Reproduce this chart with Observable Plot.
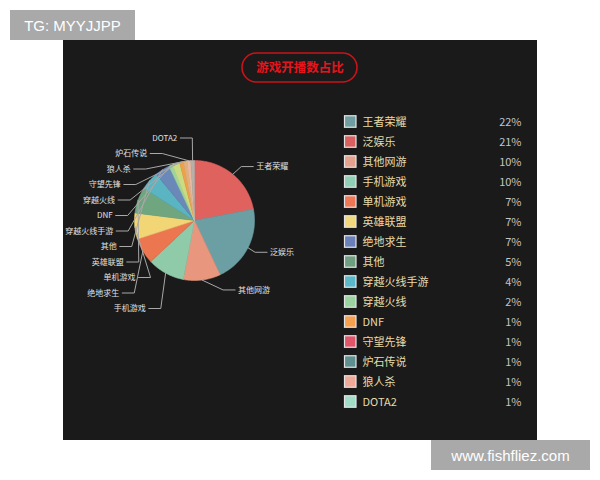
<!DOCTYPE html>
<html>
<head>
<meta charset="utf-8">
<script src="https://cdn.jsdelivr.net/npm/d3@7"></script>
<script src="https://cdn.jsdelivr.net/npm/@observablehq/plot@0.6"></script>
<style>
  html, body { margin: 0; padding: 0; background: #ffffff; }
  #page { position: relative; width: 600px; height: 480px; overflow: hidden; background: #fff; font-family: "Noto Sans CJK SC", "Noto Sans", sans-serif; }
  #panel { position: absolute; left: 63px; top: 40px; width: 474px; height: 400px; background: #1a1a1a; }
  .wm { position: absolute; background: #a9a9a9; color: #ffffff; font-family: "Liberation Sans", Arial, sans-serif; font-size: 15px; display: flex; align-items: center; justify-content: center; }
  #wm1 { left: 10px; top: 10px; width: 125px; height: 30px; }
  #wm2 { left: 431px; top: 440px; width: 159px; height: 30px; }
  svg { display: block; }
</style>
</head>
<body>
<div id="page">
  <div id="panel"></div>
  <div class="wm" id="wm1">TG: MYYJJPP</div>
  <div class="wm" id="wm2">www.fishfliez.com</div>
</div>
<script>
// ---- data ----
const titleText = "游戏开播数占比";
const categories = ["王者荣耀","泛娱乐","其他网游","手机游戏","单机游戏","英雄联盟","绝地求生","其他","穿越火线手游","穿越火线","DNF","守望先锋","炉石传说","狼人杀","DOTA2"];
const shares = [22,21,10,10,7,7,7,5,4,2,1,1,1,1,1];
const legendColors = ["#6f9ea2","#d9605f","#e5a08e","#8ecfb5","#ee7755","#f1d87a","#6a80b8","#6f9f80","#5bb8c8","#9ad2a0","#f5a050","#e0556a","#5f9090","#f0a898","#a0dcc8"];
const pieOrder = ["王者荣耀","泛娱乐","其他网游","手机游戏","绝地求生","单机游戏","英雄联盟","其他","穿越火线手游","DNF","穿越火线","守望先锋","狼人杀","炉石传说","DOTA2"];
const pieColors = ["#e0625e","#6c9fa4","#e8967e","#8fcaa9","#ec7650","#f2d676","#6fa57f","#5ab4c2","#6a88b8","#9dd59c","#c9dc84","#f0a048","#e0b07a","#e8b8a0","#b8b0a8"];

// ---- layout ----
const W = 474, H = 400;
const cx = 131, cy = 180, r = 60, len = 10, len2 = 12;
const total = d3.sum(shares);
const shareOf = new Map(categories.map((c, i) => [c, shares[i]]));
const pt = (a, rad) => ({x: cx + rad * Math.sin(a), y: cy - rad * Math.cos(a)});

let acc = 0;
const slices = pieOrder.map((name, i) => {
  const v = shareOf.get(name);
  const a0 = acc / total * 2 * Math.PI; acc += v;
  const a1 = acc / total * 2 * Math.PI;
  const pts = [{x: cx, y: cy}];
  const n = Math.max(2, Math.ceil((a1 - a0) / (Math.PI / 180)));
  for (let k = 0; k <= n; k++) pts.push(pt(a0 + (a1 - a0) * k / n, r));
  pts.push({x: cx, y: cy});
  return {name, v, a0, a1, color: pieColors[i], points: pts};
});

// labels (ECharts-like outside labels with overlap avoidance)
const labels = slices.map(s => {
  const m = (s.a0 + s.a1) / 2;
  const p0 = pt(m, r), p1 = pt(m, r + len);
  const dir = Math.sin(m) >= 0 ? 1 : -1;
  return {name: s.name, p0, p1, dir, y: p1.y, x0: p1.x + dir * (len2 + 3)};
});
function adjust(list, gap, maxY) {
  list.sort((a, b) => a.y - b.y);
  for (let i = 1; i < list.length; i++) list[i].y = Math.max(list[i].y, list[i - 1].y + gap);
  const last = list.length - 1;
  if (last >= 0 && list[last].y > maxY) {
    list[last].y = maxY;
    for (let i = last - 1; i >= 0; i--) list[i].y = Math.min(list[i].y, list[i + 1].y - gap);
  }
}
const leftL = labels.filter(l => l.dir < 0), rightL = labels.filter(l => l.dir > 0);
adjust(leftL, 15.5, cy + r + 28);
adjust(rightL, 15.5, cy + r + 28);
const R1 = r + len, R2 = r + len + len2;
labels.forEach(l => {
  const dy = Math.abs(l.y - cy);
  const dx = dy < R1 ? Math.sqrt(R2 * R2 - dy * dy) : Math.abs(l.x0 - cx);
  l.tx = cx + l.dir * dx;
  l.e2 = l.tx - l.dir * 3;
  l.e1 = l.e2 - l.dir * len2;
});
const leaderPts = labels.flatMap(l => [
  {name: l.name, x: l.p0.x, y: l.p0.y},
  {name: l.name, x: l.e1, y: l.y},
  {name: l.name, x: l.e2, y: l.y}
]);

// legend
const legTop = 81.5, legStep = 20;
const legend = categories.map((c, i) => ({name: c, pct: shares[i] + "%", color: legendColors[i], y: legTop + i * legStep}));

const font = "Noto Sans CJK SC";
const chart = Plot.plot({
  width: W, height: H, margin: 0,
  x: {domain: [0, W], range: [0, W], axis: null},
  y: {domain: [0, H], range: [0, H], axis: null},
  color: {type: "identity"},
  style: {background: "#1a1a1a", fontFamily: font},
  marks: [
    ...slices.map(s => Plot.line(s.points, {x: "x", y: "y", fill: s.color, stroke: s.color, strokeWidth: 0.6, curve: "linear"})),
    Plot.line(leaderPts, {x: "x", y: "y", z: "name", stroke: "#a8a8a8", strokeWidth: 1, curve: "linear"}),
    Plot.text(labels.filter(l => l.dir < 0), {x: "tx", y: "y", text: "name", textAnchor: "end", fill: "#e0e0e0", fontSize: 8}),
    Plot.text(labels.filter(l => l.dir > 0), {x: "tx", y: "y", text: "name", textAnchor: "start", fill: "#e0e0e0", fontSize: 8}),
    // title pill
    Plot.rect([titleText], {x1: () => 179, x2: () => 294, y1: () => 13, y2: () => 42, rx: 14.5, fill: "none", stroke: "#c8141a", strokeWidth: 1.6}),
    Plot.text([titleText], {x: () => 236.5, y: () => 27.5, text: d => d, fill: "#e8141c", fontSize: 12.5, fontWeight: "bold"}),
    // legend
    Plot.rect(legend, {x1: () => 281.5, x2: () => 293, y1: d => d.y - 5.75, y2: d => d.y + 5.75, fill: "color", stroke: "#e6e6e6", strokeWidth: 1.2}),
    Plot.text(legend, {x: () => 299, y: "y", text: "name", textAnchor: "start", fill: "#e8dba8", fontSize: 11}),
    Plot.text(legend, {x: () => 458, y: "y", text: "pct", textAnchor: "end", fill: "#c4c4c4", fontSize: 11})
  ]
});
document.getElementById("panel").appendChild(chart);
</script>
</body>
</html>
